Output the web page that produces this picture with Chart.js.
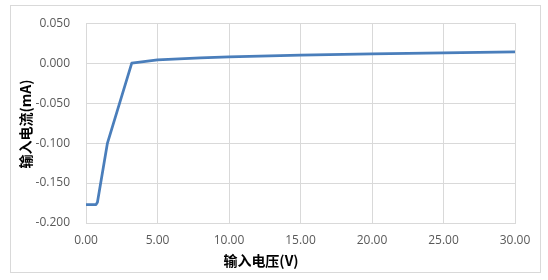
<!DOCTYPE html>
<html lang="zh">

<head>
    <meta charset="UTF-8">
    <title>输入电流</title>
    <script src="https://cdn.jsdelivr.net/npm/chart.js"></script>
    <style>
        body {
            margin: 0;
            background: #fff;
        }
    </style>
</head>

<body>
    <canvas id="ivChart" width="548" height="280"></canvas>
    <script>
        // data
        const voltage = [0, 0.5, 0.7, 0.8, 1.5, 3.2, 5, 8, 10, 15, 20, 25, 30];
        const current = [-0.177, -0.177, -0.177, -0.174, -0.100, 0.000, 0.004, 0.0065, 0.008, 0.010, 0.0115, 0.013, 0.014];
        const xTicks = [0, 5, 10, 15, 20, 25, 30];
        const yTicks = [0.05, 0, -0.05, -0.1, -0.15, -0.2];
        const xTitle = '输入电压(V)';
        const yTitle = '输入电流(mA)';

        const points = voltage.map((v, i) => ({ x: v, y: current[i] }));
        const tickFont = { family: "'Open Sans', 'Liberation Sans', sans-serif", size: 12 };
        const titleFont = "bold 14px 'Noto Sans CJK SC', sans-serif";

        // frame + axis titles
        const frame = {
            id: 'frame',
            beforeDraw(chart) {
                const c = chart.ctx;
                c.save();
                c.fillStyle = '#fff';
                c.fillRect(0, 0, chart.width, chart.height);
                c.strokeStyle = '#d9d9d9';
                c.lineWidth = 1;
                c.strokeRect(10.5, 5.5, 530, 267);
                c.restore();
            },
            afterDraw(chart) {
                const c = chart.ctx;
                c.save();
                c.fillStyle = '#000';
                c.font = titleFont;
                c.textAlign = 'center';
                c.textBaseline = 'middle';
                c.fillText(xTitle, 261, 261);
                c.translate(26, 124);
                c.rotate(-Math.PI / 2);
                c.fillText(yTitle, 0, 0);
                c.restore();
            }
        };

        new Chart(document.getElementById('ivChart'), {
            type: 'scatter',
            data: {
                datasets: [{
                    data: points,
                    showLine: true,
                    borderColor: '#4a7ebb',
                    borderWidth: 2.75,
                    pointRadius: 0,
                    tension: 0,
                    borderJoinStyle: 'round'
                }]
            },
            options: {
                responsive: false,
                animation: false,
                layout: { padding: { left: 0, top: 22, right: 33, bottom: 0 } },
                plugins: {
                    legend: { display: false },
                    tooltip: { enabled: false }
                },
                scales: {
                    x: {
                        type: 'linear',
                        min: 0,
                        max: 30,
                        afterFit: s => { s.height = 57; },
                        afterBuildTicks: s => { s.ticks = xTicks.map(v => ({ value: v })); },
                        grid: { color: '#d9d9d9', drawTicks: false },
                        border: { color: '#d9d9d9' },
                        ticks: {
                            padding: 10,
                            color: '#595959',
                            font: tickFont,
                            maxRotation: 0,
                            callback: v => v.toFixed(2)
                        }
                    },
                    y: {
                        type: 'linear',
                        min: -0.2,
                        max: 0.05,
                        afterFit: s => { s.width = 86; },
                        afterBuildTicks: s => { s.ticks = yTicks.map(v => ({ value: v })); },
                        grid: { color: '#d9d9d9', drawTicks: false },
                        border: { color: '#d9d9d9' },
                        ticks: {
                            padding: 16,
                            color: '#595959',
                            font: tickFont,
                            callback: v => v.toFixed(3)
                        }
                    }
                }
            },
            plugins: [frame]
        });
    </script>
</body>

</html>
